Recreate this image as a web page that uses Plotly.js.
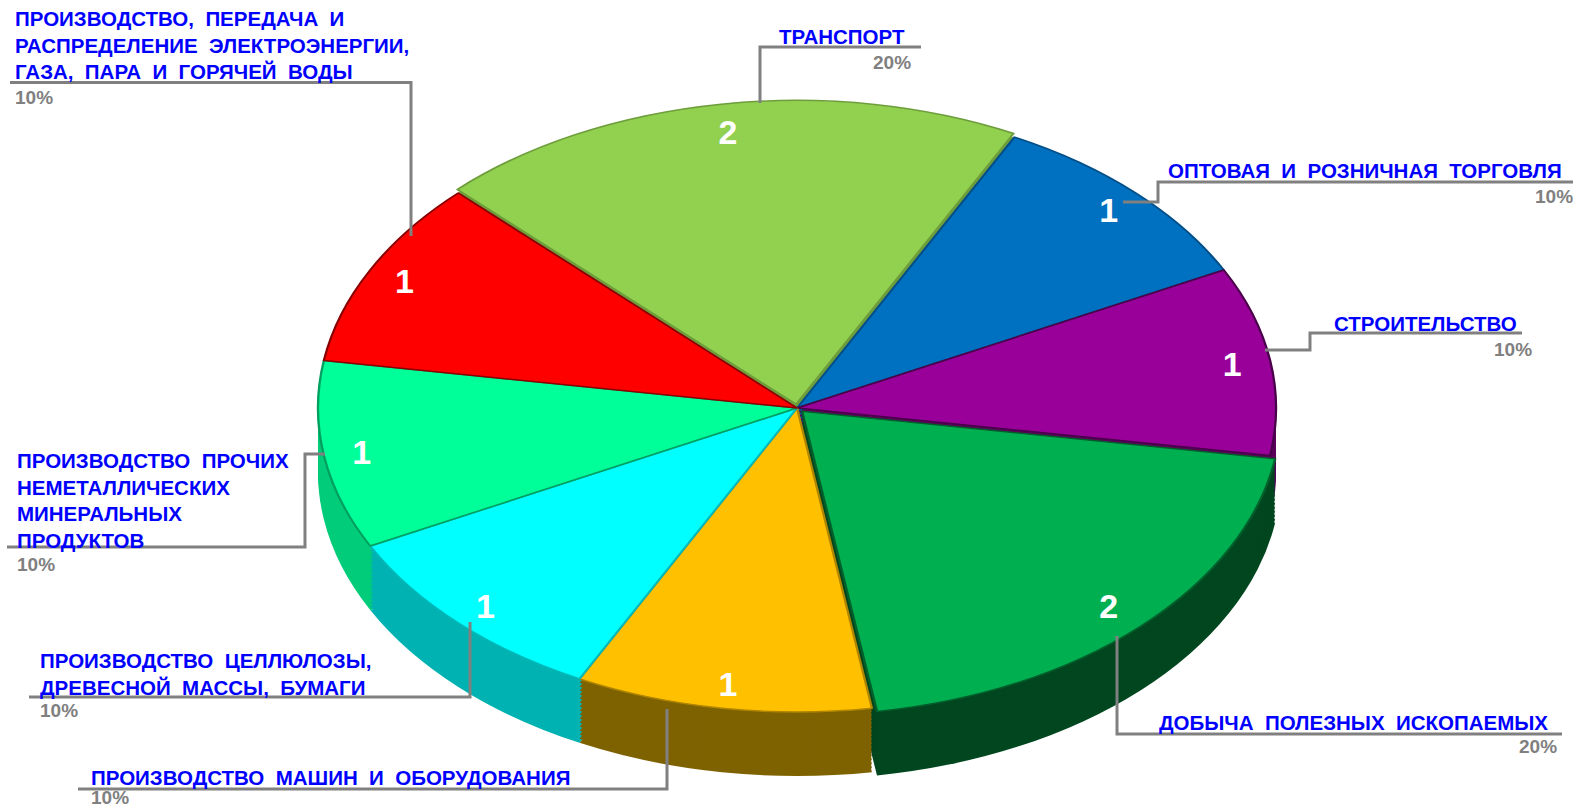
<!DOCTYPE html>
<html><head><meta charset="utf-8">
<script src="https://cdn.plot.ly/plotly-3.0.1.min.js"></script>
<style>html,body{margin:0;padding:0;background:#fff}#chart{width:1578px;height:808px}</style>
</head><body><div id="chart"></div>
<script>
// ---- data ----
const categories = [
  "ТРАНСПОРТ",
  "ОПТОВАЯ И РОЗНИЧНАЯ ТОРГОВЛЯ",
  "СТРОИТЕЛЬСТВО",
  "ДОБЫЧА ПОЛЕЗНЫХ ИСКОПАЕМЫХ",
  "ПРОИЗВОДСТВО МАШИН И ОБОРУДОВАНИЯ",
  "ПРОИЗВОДСТВО ЦЕЛЛЮЛОЗЫ, ДРЕВЕСНОЙ МАССЫ, БУМАГИ",
  "ПРОИЗВОДСТВО ПРОЧИХ НЕМЕТАЛЛИЧЕСКИХ МИНЕРАЛЬНЫХ ПРОДУКТОВ",
  "ПРОИЗВОДСТВО, ПЕРЕДАЧА И РАСПРЕДЕЛЕНИЕ ЭЛЕКТРОЭНЕРГИИ, ГАЗА, ПАРА И ГОРЯЧЕЙ ВОДЫ"
];
const values = [2, 1, 1, 2, 1, 1, 1, 1];
const labelTexts = [
  "ТРАНСПОРТ",
  "ОПТОВАЯ  И  РОЗНИЧНАЯ  ТОРГОВЛЯ",
  "СТРОИТЕЛЬСТВО",
  "ДОБЫЧА  ПОЛЕЗНЫХ  ИСКОПАЕМЫХ",
  "ПРОИЗВОДСТВО  МАШИН  И  ОБОРУДОВАНИЯ",
  "ПРОИЗВОДСТВО  ЦЕЛЛЮЛОЗЫ,<br>ДРЕВЕСНОЙ  МАССЫ,  БУМАГИ",
  "ПРОИЗВОДСТВО  ПРОЧИХ<br>НЕМЕТАЛЛИЧЕСКИХ<br>МИНЕРАЛЬНЫХ<br>ПРОДУКТОВ",
  "ПРОИЗВОДСТВО,  ПЕРЕДАЧА  И<br>РАСПРЕДЕЛЕНИЕ  ЭЛЕКТРОЭНЕРГИИ,<br>ГАЗА,  ПАРА  И  ГОРЯЧЕЙ  ВОДЫ"
];

// ---- styles ----
const topColors  = ["#92D050", "#0070C0", "#990099", "#00B050", "#FFC000", "#00FFFF", "#00FF99", "#FF0000"];
const edgeColors = ["#6E9E3C", "#004F88", "#4A004A", "#00602C", "#B08600", "#00B8B8", "#00A060", "#8A0000"];
const sideColors = ["#6F9F3A", "#00508C", "#5A005A", "#00461F", "#7E6200", "#00B2B2", "#00CC7A", "#A00000"];
const pulls = [0.012, 0, 0, 0.015, 0, 0, 0, 0];

const W = 1578, H = 808;
const CX = 797, CY = 408, R = 304, S = 479 / 304, DEPTH = 64, STEP = 4;

function dom(cx, cy, d) {
  return { x: [(cx - d / 2) / W, (cx + d / 2) / W], y: [1 - (cy + d / 2) / H, 1 - (cy - d / 2) / H] };
}
const maxPull = Math.max(...pulls);
const D = 2 * R * (1 + maxPull);

const common = { type: 'pie', labels: categories, values: values, sort: false, direction: 'clockwise',
  rotation: -45, hoverinfo: 'skip', showlegend: false };

const traces = [];
for (let off = DEPTH; off > 0; off -= STEP) {
  traces.push(Object.assign({}, common, {
    pull: pulls, marker: { colors: sideColors, line: { width: 0 } }, textinfo: 'none',
    domain: dom(CX, CY + off, D)
  }));
}
traces.push(Object.assign({}, common, {
  pull: pulls, marker: { colors: topColors, line: { color: edgeColors, width: 1.5 } }, textinfo: 'none',
  domain: dom(CX, CY, D)
}));
traces.push(Object.assign({}, common, {
  hole: 0.84, marker: { colors: values.map(() => 'rgba(0,0,0,0)'), line: { width: 0 } },
  texttemplate: '<b>%{value}</b>', textposition: 'inside', insidetextorientation: 'horizontal',
  textfont: { family: 'Liberation Sans, Arial, sans-serif', size: 34, color: '#FFFFFF' },
  domain: dom(CX, CY, 2 * R)
}));

// ---- label placement (page pixels) ----
const labelPos = [
  { x: 905,  y: 36,    xa: 'right', px: 911,  py: 63,  line: [[921, 47], [760, 47], [760, 103]] },
  { x: 1562, y: 171,   xa: 'right', px: 1573, py: 196, line: [[1573, 182], [1158, 182], [1158, 202], [1123, 202]] },
  { x: 1517, y: 323,   xa: 'right', px: 1532, py: 349, line: [[1522, 333], [1310, 333], [1310, 350], [1265, 350]] },
  { x: 1548, y: 722,   xa: 'right', px: 1557, py: 746, line: [[1562, 734], [1117, 734], [1117, 636]] },
  { x: 91,   y: 777,   xa: 'left',  px: 91,   py: 797, line: [[78, 789], [667, 789], [667, 709]] },
  { x: 40,   y: 674,   xa: 'left',  px: 40,   py: 710, line: [[29, 697], [470, 697], [470, 622]] },
  { x: 17,   y: 500.5, xa: 'left',  px: 17,   py: 564, line: [[7, 547], [305, 547], [305, 454], [325, 454]] },
  { x: 15,   y: 45.5,  xa: 'left',  px: 15,   py: 97,  line: [[10, 82.5], [411, 82.5], [411, 236]] }
];

const total = values.reduce((a, b) => a + b, 0);
const font = 'Liberation Sans, Arial, sans-serif';
const annotations = [], shapes = [];
labelPos.forEach((p, i) => {
  annotations.push({ xref: 'paper', yref: 'paper', x: p.x / W, y: 1 - p.y / H, xanchor: p.xa, yanchor: 'middle',
    align: p.xa, showarrow: false, borderpad: 0, borderwidth: 0,
    text: '<b>' + labelTexts[i] + '</b>', font: { family: font, size: 20.5, color: '#0000FF' } });
  annotations.push({ xref: 'paper', yref: 'paper', x: p.px / W, y: 1 - p.py / H, xanchor: p.xa, yanchor: 'middle',
    showarrow: false, borderpad: 0, borderwidth: 0,
    text: '<b>' + Math.round(values[i] / total * 100) + '%</b>', font: { family: font, size: 19, color: '#808080' } });
  const path = p.line.map((pt, k) => (k ? 'L' : 'M') + (pt[0] / W).toFixed(5) + ',' + (1 - pt[1] / H).toFixed(5)).join(' ');
  shapes.push({ type: 'path', xref: 'paper', yref: 'paper', path: path, line: { color: '#808080', width: 3 } });
});

const layout = {
  width: W, height: H, margin: { l: 0, r: 0, t: 0, b: 0 }, showlegend: false,
  paper_bgcolor: '#FFFFFF', plot_bgcolor: '#FFFFFF', annotations: annotations, shapes: shapes
};

Plotly.newPlot('chart', traces, layout, { staticPlot: true }).then(gd => {
  const layer = gd.querySelector('.pielayer');
  if (layer) {
    layer.setAttribute('transform', 'translate(' + (CX * (1 - S)) + ',0) scale(' + S + ',1)');
    layer.querySelectorAll('text.slicetext').forEach(t => {
      const tr = t.getAttribute('transform') || '';
      t.setAttribute('transform', tr + ' scale(' + (1 / S) + ',1)');
    });
  }
});
</script>
</body></html>
